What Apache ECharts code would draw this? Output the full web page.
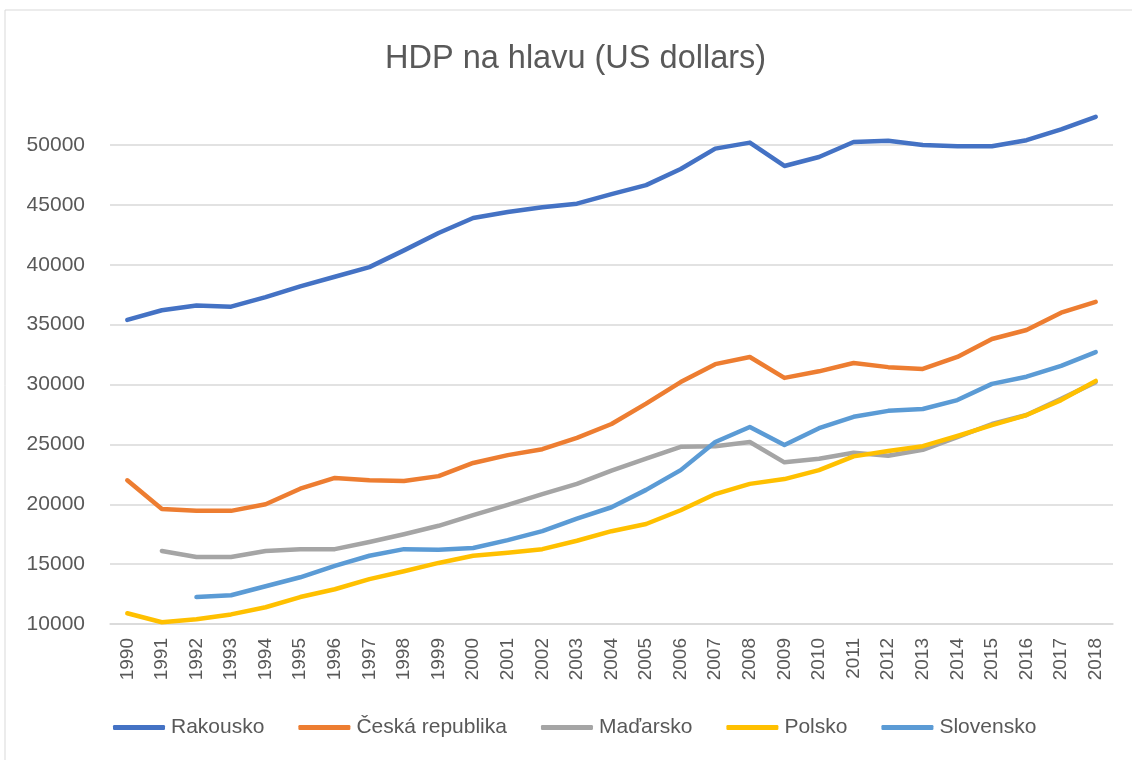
<!DOCTYPE html>
<html>
<head>
<meta charset="utf-8">
<script src="https://cdn.jsdelivr.net/npm/echarts@6/dist/echarts.min.js"></script>
<style>
  html, body { margin: 0; padding: 0; background: #fff; }
  #chart { width: 1132px; height: 760px; }
</style>
</head>
<body>
<div id="chart"></div>
<script>
// roky
var years = ['1990', '1991', '1992', '1993', '1994', '1995', '1996', '1997', '1998', '1999',
  '2000', '2001', '2002', '2003', '2004', '2005', '2006', '2007', '2008', '2009',
  '2010', '2011', '2012', '2013', '2014', '2015', '2016', '2017', '2018']

// HDP na hlavu
var rakousko = [35400, 36200, 36600, 36500, 37300, 38200, 39000, 39800, 41200, 42650,
  43900, 44400, 44800, 45100, 45900, 46650, 48000, 49700, 50200, 48250,
  49000, 50250, 50350, 50000, 49900, 49900, 50400, 51300, 52350]
var cesko = [22000, 19600, 19450, 19450, 20000, 21300, 22200, 22000, 21950, 22350,
  23450, 24100, 24600, 25550, 26700, 28400, 30200, 31700, 32300, 30550,
  31100, 31800, 31450, 31300, 32300, 33800, 34550, 36000, 36900]
var madarsko = [null, 16100, 15600, 15600, 16100, 16250, 16250, 16850, 17500, 18200,
  19100, 19950, 20850, 21700, 22800, 23800, 24800, 24850, 25200, 23500,
  23800, 24300, 24050, 24550, 25600, 26700, 27450, 28800, 30200]
var polsko = [10900, 10150, 10400, 10800, 11400, 12250, 12900, 13750, 14400, 15100,
  15700, 15950, 16250, 16950, 17750, 18350, 19500, 20850, 21700, 22100,
  22850, 24000, 24450, 24850, 25700, 26600, 27450, 28700, 30300]
var slovensko = [null, null, 12250, 12400, 13150, 13900, 14850, 15700, 16250, 16200,
  16350, 17000, 17750, 18800, 19750, 21200, 22850, 25200, 26450, 24950,
  26350, 27300, 27800, 27950, 28700, 30050, 30650, 31550, 32700]

var font = 'Liberation Sans'
var textColor = '#595959'

function line (name, data, color) {
  return {
    name: name,
    type: 'line',
    data: data,
    symbol: 'none',
    clip: false,
    lineStyle: { width: 4.5, color: color, cap: 'round', join: 'round' },
    itemStyle: { color: color }
  }
}

var chart = echarts.init(document.getElementById('chart'))
chart.setOption({
  animation: false,
  textStyle: { fontFamily: font },
  graphic: [{
    type: 'rect',
    shape: { x: 5, y: 10, width: 1140, height: 760 },
    style: { fill: 'none', stroke: '#d9d9d9', lineWidth: 1 },
    silent: true
  }],
  title: {
    text: 'HDP na hlavu (US dollars)',
    left: 385,
    top: 43,
    padding: 0,
    textStyle: { fontFamily: font, fontSize: 32.5, fontWeight: 'normal', color: textColor }
  },
  grid: { left: 110, right: 19, top: 145, bottom: 136 },
  legend: {
    left: 113,
    top: 717,
    padding: 0,
    icon: 'roundRect',
    itemWidth: 52,
    itemHeight: 5,
    itemGap: 34,
    textStyle: { fontFamily: font, fontSize: 21, color: textColor, padding: [0, 0, 0, 1] },
    data: ['Rakousko', 'Česká republika', 'Maďarsko', 'Polsko', 'Slovensko']
  },
  xAxis: {
    type: 'category',
    data: years,
    boundaryGap: true,
    axisLine: { lineStyle: { color: '#d9d9d9', width: 1.5 } },
    axisTick: { show: false },
    axisLabel: { rotate: 90, margin: 14, fontSize: 19, color: textColor, fontFamily: font }
  },
  yAxis: {
    type: 'value',
    min: 10000,
    max: 50000,
    interval: 5000,
    axisLine: { show: false },
    axisTick: { show: false },
    splitLine: { lineStyle: { color: '#d9d9d9', width: 1.5 } },
    axisLabel: {
      margin: 25,
      fontSize: 21,
      color: textColor,
      fontFamily: font,
      formatter: function (v) { return String(v) }
    }
  },
  series: [
    line('Rakousko', rakousko, '#4472C4'),
    line('Česká republika', cesko, '#ED7D31'),
    line('Maďarsko', madarsko, '#A5A5A5'),
    line('Polsko', polsko, '#FFC000'),
    line('Slovensko', slovensko, '#5B9BD5')
  ]
})
</script>
</body>
</html>
